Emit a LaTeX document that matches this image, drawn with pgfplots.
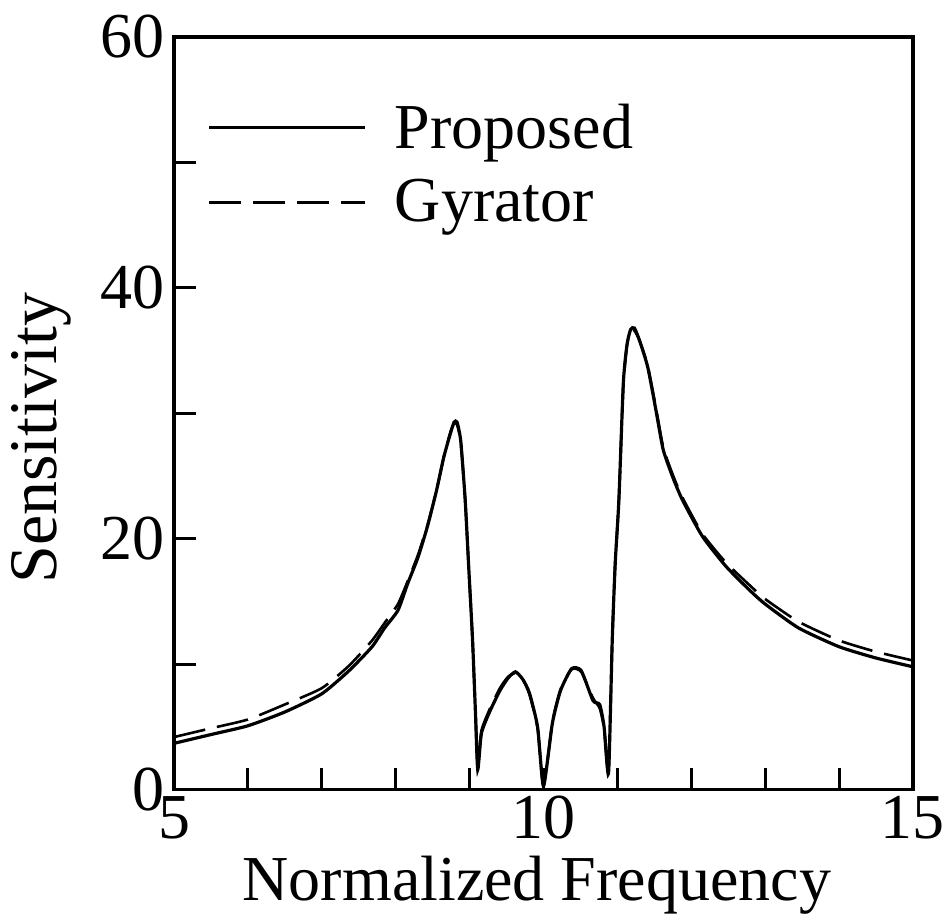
\documentclass[border=0pt]{standalone}
\usepackage{fontspec}
\setmainfont{Liberation Serif}
\usepackage{pgfplots}
\pgfplotsset{compat=1.18}
\begin{document}
\begin{tikzpicture}
\begin{axis}[
  name=ax,
  scale only axis,
  width=369.4pt, height=376.3pt,
  xmin=5, xmax=15, ymin=0, ymax=60,
  axis line style={line width=1.6pt},
  tick pos=left, tick align=inside,
  major tick length=11pt,
  every tick/.style={black, line width=1.5pt},
  xtick={5,6,...,15},
  xticklabels={5,,,,,10,,,,,15},
  ytick={0,10,...,60},
  yticklabels={0,,20,,40,,60},
  /pgf/number format/assume math mode=true,
  tick label style={font=\fontsize{32}{36}\selectfont},
  xticklabel style={anchor=north, inner sep=0pt, yshift=-3pt},
  yticklabel style={anchor=east, inner sep=0pt, xshift=-4.5pt},
  xlabel={Normalized Frequency},
  ylabel={Sensitivity},
  xlabel style={font=\fontsize{32}{36}\selectfont, at={(axis description cs:0.491,-0.0877)}, anchor=north, inner sep=0pt},
  ylabel style={font=\fontsize{34}{38}\selectfont, at={(axis description cs:-0.179,0.467)}, anchor=center, inner sep=0pt},
  legend style={draw=none, fill=none, at={(axis cs:5.45,55.0)}, anchor=north west,
    font=\fontsize{32}{36}\selectfont, row sep=10pt, inner sep=0pt},
  legend cell align=left,
  legend image code/.code={\draw[#1] (0pt,0pt) -- (78pt,0pt);},
]
\addplot[black, line width=1.6pt, smooth, tension=0.35] coordinates {
(5.0,3.7) (5.5,4.4) (6.0,5.1) (6.5,6.2) (7.0,7.65) (7.37,9.5) (7.68,11.4)
(7.85,12.9) (8.03,14.3) (8.16,16.4) (8.3,18.5) (8.43,21.0) (8.55,23.8)
(8.65,26.5) (8.74,28.4) (8.79,29.3) (8.83,29.3) (8.88,27.8) (8.94,23.1) (8.99,17.5)
(9.04,11.9) (9.08,6.0) (9.11,1.6) (9.16,4.5) (9.27,6.2) (9.41,7.9)
(9.52,8.9) (9.62,9.4) (9.72,8.8) (9.81,7.7) (9.92,5.0) (10.0,0.3)
(10.12,5.3) (10.23,7.9) (10.38,9.65) (10.51,9.5) (10.67,7.1) (10.76,6.8)
(10.82,5.0) (10.88,1.3) (10.93,11.9) (10.97,18.0) (11.02,23.1) (11.08,32.4)
(11.13,35.5) (11.18,36.7) (11.23,36.8) (11.3,35.8) (11.41,33.7) (11.52,30.3) (11.62,27.1)
(11.75,24.9) (11.88,23.1) (12.15,20.2) (12.47,17.8) (12.79,15.9) (13.0,14.8)
(13.45,12.9) (14.0,11.4) (14.5,10.5) (15.0,9.8)
};
\addlegendentry{\hspace{12pt}Proposed}
\addplot[black, line width=1.3pt, dash pattern=on 16pt off 6pt, smooth, tension=0.35] coordinates {
(5.0,4.2) (5.5,4.9) (6.0,5.6) (6.5,6.8) (7.0,8.1) (7.37,9.9) (7.68,11.9)
(7.85,13.3) (8.03,14.8) (8.16,16.6) (8.3,18.7) (8.43,21.1) (8.55,23.8)
(8.65,26.5) (8.74,28.5) (8.79,29.2) (8.83,29.1) (8.88,27.7) (8.94,23.1) (8.99,17.5)
(9.04,11.9) (9.08,6.0) (9.11,1.8) (9.16,4.7) (9.27,6.4) (9.41,8.1)
(9.52,9.0) (9.62,9.3) (9.72,8.8) (9.81,7.6) (9.92,4.9) (10.0,0.3)
(10.12,5.4) (10.23,8.0) (10.38,9.6) (10.51,9.4) (10.67,7.3) (10.76,6.5)
(10.82,4.9) (10.88,1.4) (10.93,11.9) (10.97,18.0) (11.02,23.1) (11.08,32.2)
(11.13,35.4) (11.18,36.6) (11.23,36.6) (11.3,35.8) (11.41,33.8) (11.52,30.5) (11.62,27.3)
(11.75,25.1) (11.88,23.3) (12.15,20.4) (12.47,18.1) (12.79,16.3) (13.0,15.2)
(13.45,13.4) (14.0,11.9) (14.5,11.0) (15.0,10.3)
};
\addlegendentry{\hspace{12pt}Gyrator}
\end{axis}
\pgfresetboundingbox
\path[use as bounding box] ([shift={(-87pt,-65pt)}]ax.south west) rectangle ([shift={(16pt,18.5pt)}]ax.north east);
\end{tikzpicture}
\end{document}
